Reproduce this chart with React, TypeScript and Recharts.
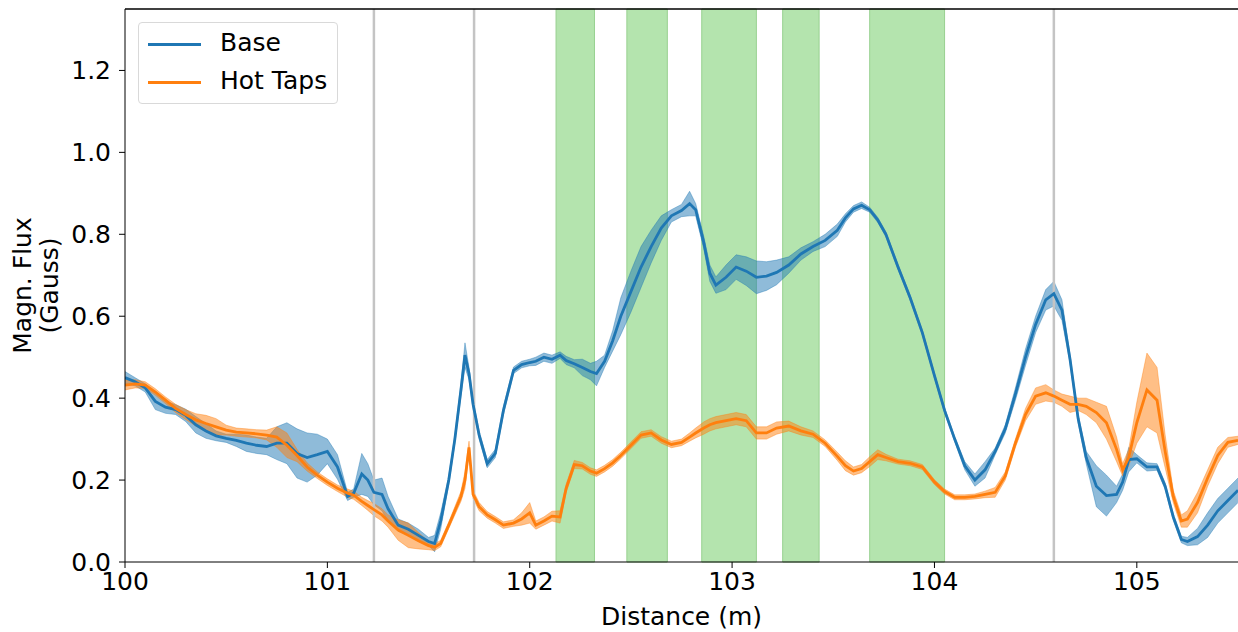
import React from 'react'
import {
  ComposedChart,
  Line,
  Area,
  XAxis,
  YAxis,
  ReferenceArea,
  ReferenceLine,
} from 'recharts'

// distance (m), shared by both series
const distance = [
  100.0, 100.05, 100.1, 100.15, 100.2, 100.25, 100.3, 100.35, 100.4, 100.45,
  100.5, 100.55, 100.6, 100.65, 100.7, 100.75, 100.8, 100.85, 100.9, 100.95,
  101.0, 101.05, 101.1, 101.13, 101.17, 101.2, 101.23, 101.27, 101.3, 101.35,
  101.4, 101.45, 101.5, 101.53, 101.56, 101.6, 101.63, 101.66, 101.68, 101.7,
  101.72, 101.75, 101.79, 101.83, 101.87, 101.92, 101.96, 102.0, 102.03, 102.07,
  102.11, 102.15, 102.18, 102.22, 102.26, 102.3, 102.33, 102.37, 102.41, 102.45,
  102.5, 102.55, 102.6, 102.65, 102.7, 102.75, 102.79, 102.82, 102.86, 102.89,
  102.92, 102.97, 103.02, 103.07, 103.12, 103.17, 103.22, 103.28, 103.34, 103.4,
  103.46, 103.52, 103.56, 103.6, 103.64, 103.68, 103.72, 103.76, 103.82, 103.88,
  103.94, 104.0, 104.05, 104.1, 104.15, 104.2, 104.25, 104.3, 104.35, 104.4,
  104.45, 104.5, 104.55, 104.59, 104.63, 104.67, 104.71, 104.75, 104.8, 104.85,
  104.9, 104.93, 104.96, 105.0, 105.05, 105.1, 105.14, 105.18, 105.22, 105.25,
  105.3, 105.35, 105.4, 105.45, 105.5,
]

const baseMean = [
  0.45, 0.44, 0.425, 0.392, 0.378, 0.372, 0.358, 0.335, 0.32, 0.308,
  0.302, 0.297, 0.29, 0.285, 0.282, 0.29, 0.29, 0.265, 0.255, 0.262,
  0.27, 0.232, 0.16, 0.168, 0.215, 0.2, 0.17, 0.165, 0.13, 0.09,
  0.08, 0.065, 0.05, 0.045, 0.1, 0.2, 0.3, 0.42, 0.505, 0.46,
  0.385, 0.31, 0.24, 0.265, 0.37, 0.468, 0.482, 0.487, 0.49, 0.5,
  0.495, 0.505, 0.492, 0.484, 0.475, 0.465, 0.46, 0.49, 0.54, 0.6,
  0.66, 0.72, 0.77, 0.815, 0.845, 0.858, 0.875, 0.86, 0.78, 0.705,
  0.676, 0.695, 0.72, 0.71, 0.695, 0.698, 0.707, 0.725, 0.752, 0.77,
  0.785, 0.81, 0.84, 0.862, 0.871, 0.86, 0.835, 0.8, 0.72, 0.645,
  0.56, 0.455, 0.37, 0.3, 0.235, 0.2, 0.225, 0.27, 0.325, 0.41,
  0.5, 0.58, 0.64, 0.655, 0.615, 0.495, 0.35, 0.255, 0.185, 0.162,
  0.165, 0.195, 0.25, 0.252, 0.232, 0.232, 0.185, 0.11, 0.055, 0.05,
  0.062, 0.09, 0.125, 0.15, 0.175,
]

const baseSpread = [
  0.015, 0.01, 0.01, 0.02, 0.015, 0.012, 0.015, 0.02, 0.018, 0.012,
  0.01, 0.015, 0.02, 0.02, 0.02, 0.04, 0.05, 0.06, 0.06, 0.05,
  0.03, 0.03, 0.01, 0.01, 0.05, 0.04, 0.03, 0.04, 0.03, 0.015,
  0.015, 0.015, 0.01, 0.02, 0.02, 0.01, 0.01, 0.015, 0.03, 0.015,
  0.01, 0.01, 0.01, 0.01, 0.01, 0.008, 0.008, 0.008, 0.01, 0.01,
  0.01, 0.008, 0.01, 0.01, 0.02, 0.02, 0.03, 0.015, 0.025, 0.045,
  0.05, 0.05, 0.04, 0.03, 0.015, 0.015, 0.03, 0.015, 0.015, 0.02,
  0.02, 0.03, 0.03, 0.035, 0.04, 0.035, 0.03, 0.02, 0.015, 0.012,
  0.015, 0.015, 0.01, 0.008, 0.008, 0.006, 0.006, 0.006, 0.006, 0.006,
  0.006, 0.006, 0.006, 0.006, 0.01, 0.015, 0.02, 0.008, 0.01, 0.015,
  0.02, 0.02, 0.025, 0.03, 0.025, 0.01, 0.01, 0.015, 0.05, 0.05,
  0.02, 0.02, 0.03, 0.01, 0.01, 0.008, 0.008, 0.008, 0.008, 0.01,
  0.02, 0.03, 0.03, 0.03, 0.03,
]

const hotMean = [
  0.432, 0.435, 0.432, 0.415, 0.395, 0.375, 0.36, 0.347, 0.338, 0.33,
  0.322, 0.317, 0.315, 0.313, 0.31, 0.305, 0.285, 0.26, 0.232, 0.212,
  0.195, 0.18, 0.168, 0.163, 0.148, 0.138, 0.128, 0.115, 0.1, 0.078,
  0.065, 0.052, 0.04, 0.036, 0.045, 0.09, 0.125, 0.16, 0.2, 0.28,
  0.165, 0.135, 0.115, 0.103, 0.09, 0.095, 0.105, 0.12, 0.09, 0.1,
  0.112, 0.11, 0.18, 0.238, 0.235, 0.222, 0.217, 0.228, 0.242, 0.26,
  0.285, 0.31, 0.315, 0.298, 0.287, 0.292, 0.305, 0.315, 0.327, 0.335,
  0.34, 0.345, 0.35, 0.345, 0.315, 0.315, 0.327, 0.332, 0.32, 0.312,
  0.29, 0.258, 0.235, 0.222, 0.228, 0.245, 0.262, 0.255, 0.245, 0.241,
  0.232, 0.195, 0.172, 0.158, 0.158, 0.16, 0.165, 0.17, 0.21, 0.29,
  0.36, 0.405, 0.413, 0.405, 0.395, 0.385, 0.385, 0.38, 0.365, 0.34,
  0.275, 0.225, 0.255, 0.34, 0.42, 0.395, 0.27, 0.16, 0.1, 0.105,
  0.145, 0.205, 0.26, 0.292, 0.297,
]

const hotSpread = [
  0.012, 0.01, 0.008, 0.008, 0.008, 0.01, 0.012, 0.015, 0.02, 0.02,
  0.012, 0.01, 0.01, 0.01, 0.012, 0.025, 0.03, 0.015, 0.01, 0.008,
  0.008, 0.008, 0.01, 0.01, 0.01, 0.012, 0.015, 0.015, 0.015, 0.025,
  0.03, 0.02, 0.01, 0.008, 0.008, 0.008, 0.01, 0.012, 0.02, 0.015,
  0.01, 0.01, 0.008, 0.008, 0.008, 0.008, 0.015, 0.025, 0.01, 0.01,
  0.012, 0.015, 0.01, 0.01, 0.008, 0.008, 0.008, 0.008, 0.008, 0.008,
  0.008, 0.008, 0.008, 0.008, 0.008, 0.008, 0.01, 0.012, 0.015, 0.015,
  0.015, 0.015, 0.015, 0.015, 0.015, 0.015, 0.015, 0.012, 0.01, 0.008,
  0.008, 0.01, 0.012, 0.01, 0.01, 0.012, 0.012, 0.008, 0.006, 0.006,
  0.006, 0.006, 0.006, 0.006, 0.006, 0.006, 0.008, 0.012, 0.01, 0.01,
  0.015, 0.02, 0.02, 0.015, 0.015, 0.02, 0.015, 0.02, 0.025, 0.04,
  0.03, 0.015, 0.02, 0.05, 0.09, 0.08, 0.04, 0.015, 0.015, 0.02,
  0.025, 0.02, 0.02, 0.012, 0.01,
]

// shaded regions and marker lines
const greenSpans = [
  [102.13, 102.32],
  [102.48, 102.68],
  [102.85, 103.12],
  [103.25, 103.43],
  [103.68, 104.05],
]
const markerLines = [101.23, 101.725, 104.59]

const xTicks = [100, 101, 102, 103, 104, 105]
const yTicks = [0, 0.2, 0.4, 0.6, 0.8, 1.0, 1.2]

const BLUE = '#1f77b4'
const ORANGE = '#ff7f0e'
const FONT = '"DejaVu Sans", sans-serif'
const FS = 25

const data = distance.map((x, i) => ({
  x,
  base: baseMean[i],
  baseBand: [baseMean[i] - baseSpread[i], baseMean[i] + baseSpread[i]],
  hot: hotMean[i],
  hotBand: [hotMean[i] - hotSpread[i], hotMean[i] + hotSpread[i]],
}))

const legendItems = [
  { name: 'Base', color: BLUE, top: 21 },
  { name: 'Hot Taps', color: ORANGE, top: 59 },
]

const LegendBox = () => (
  <div
    style={{
      position: 'absolute',
      left: 138,
      top: 22,
      width: 198,
      height: 80,
      border: '1px solid #d9d9d9',
      borderRadius: 4,
      background: 'rgba(255,255,255,0.8)',
      fontFamily: FONT,
      fontSize: FS,
    }}
  >
    {legendItems.map((it) => (
      <div key={it.name}>
        <div
          style={{
            position: 'absolute',
            left: 9,
            top: it.top - 1,
            width: 53,
            height: 2.5,
            background: it.color,
          }}
        />
        <div style={{ position: 'absolute', left: 81, top: it.top - 16, lineHeight: '30px' }}>
          {it.name}
        </div>
      </div>
    ))}
  </div>
)

const YLabel = ({ viewBox }: any) => {
  const cy = viewBox.y + viewBox.height / 2
  return (
    <g transform={`rotate(-90, 36, ${cy})`}>
      <text x={36} y={cy - 5} textAnchor="middle" fontFamily={FONT} fontSize={FS} fill="#000">
        Magn. Flux
      </text>
      <text x={36} y={cy + 22} textAnchor="middle" fontFamily={FONT} fontSize={FS} fill="#000">
        (Gauss)
      </text>
    </g>
  )
}

export default function App() {
  return (
    <div style={{ position: 'absolute', left: 0, top: 0, background: '#fff' }}>
      <ComposedChart
        width={1238}
        height={632}
        data={data}
        margin={{ top: 9, right: 0, bottom: 0, left: 0 }}
      >
        <XAxis
          dataKey="x"
          type="number"
          domain={[100, 105.5]}
          ticks={xTicks}
          allowDataOverflow
          height={70}
          stroke="#000"
          tickSize={6}
          tickMargin={4}
          tick={{ fontSize: FS, fill: '#000', fontFamily: FONT }}
          label={{
            value: 'Distance (m)',
            position: 'insideBottom',
            offset: 7,
            fontSize: FS,
            fill: '#000',
            fontFamily: FONT,
          }}
        />
        <YAxis
          type="number"
          domain={[0, 1.35]}
          ticks={yTicks}
          allowDataOverflow
          width={125}
          stroke="#000"
          tickSize={6}
          tickMargin={8}
          tickFormatter={(v) => v.toFixed(1)}
          tick={{ fontSize: FS, fill: '#000', fontFamily: FONT }}
          label={<YLabel />}
        />
        {greenSpans.map(([a, b]) => (
          <ReferenceArea
            key={a}
            x1={a}
            x2={b}
            fill="#b4e4ae"
            fillOpacity={1}
            stroke="#98d190"
            strokeWidth={1}
          />
        ))}
        {markerLines.map((x) => (
          <ReferenceLine key={x} x={x} stroke="#c4c4c4" strokeWidth={2.5} />
        ))}
        <ReferenceLine y={1.35} stroke="#000" strokeWidth={1.5} ifOverflow="visible" />
        <Area
          dataKey="baseBand"
          type="linear"
          fill={BLUE}
          fillOpacity={0.5}
          stroke={BLUE}
          strokeOpacity={0.4}
          strokeWidth={1}
          isAnimationActive={false}
          activeDot={false}
        />
        <Line
          dataKey="base"
          type="linear"
          stroke={BLUE}
          strokeWidth={2.8}
          dot={false}
          isAnimationActive={false}
        />
        <Area
          dataKey="hotBand"
          type="linear"
          fill={ORANGE}
          fillOpacity={0.5}
          stroke={ORANGE}
          strokeOpacity={0.4}
          strokeWidth={1}
          isAnimationActive={false}
          activeDot={false}
        />
        <Line
          dataKey="hot"
          type="linear"
          stroke={ORANGE}
          strokeWidth={2.8}
          dot={false}
          isAnimationActive={false}
        />
      </ComposedChart>
      <LegendBox />
    </div>
  )
}
